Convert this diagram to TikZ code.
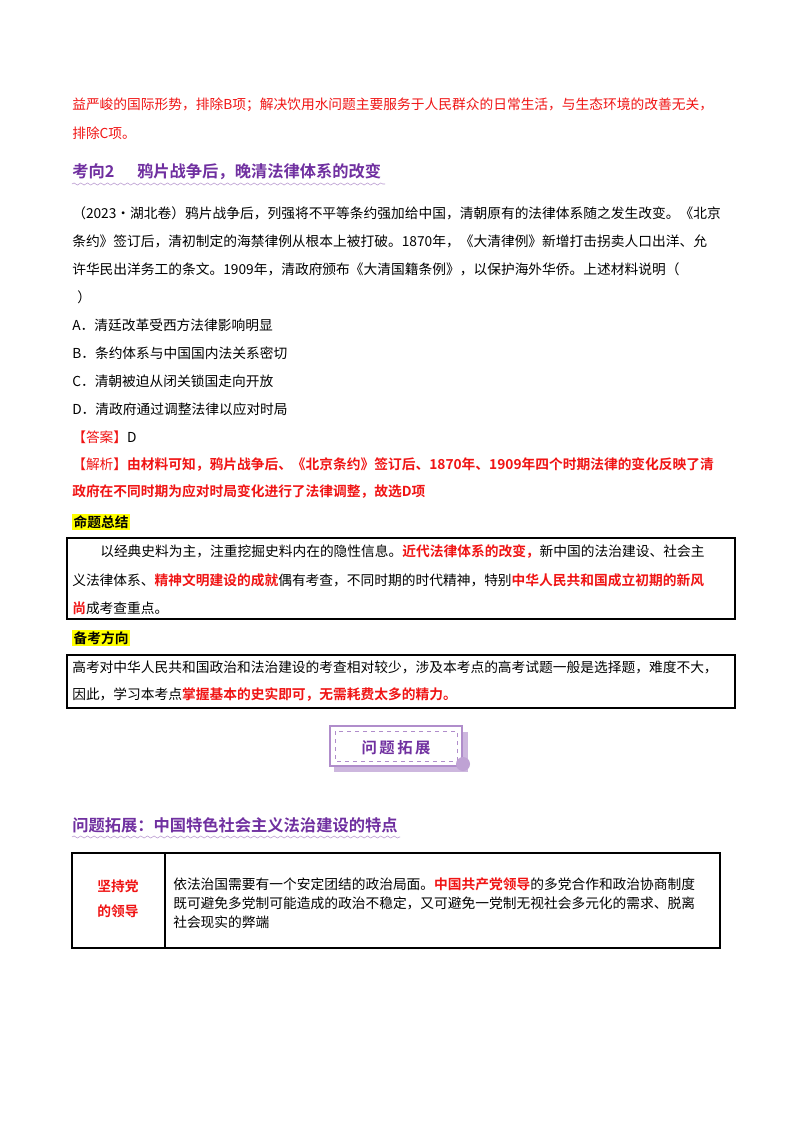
\documentclass[tikz,border=0pt]{standalone}
\usepackage{fontspec}
\setmainfont{Noto Sans CJK SC}[BoldFont={Noto Sans CJK SC Bold}]
\usetikzlibrary{decorations.pathmorphing}
\definecolor{rd}{RGB}{240,20,20}
\definecolor{pp}{RGB}{112,48,160}
\definecolor{hl}{RGB}{255,255,0}
\begin{document}
\begin{tikzpicture}[x=0.75pt,y=-0.75pt,
  t/.style={anchor=west,inner sep=0pt,font=\fontsize{10.3}{12}\selectfont},
  ts/.style={anchor=west,inner sep=0pt,font=\fontsize{10.3}{12}\selectfont},
  h/.style={anchor=west,inner sep=0pt,font=\fontsize{12.2}{14}\selectfont\bfseries,text=pp},
  wav/.style={draw=pp!50,decorate,decoration={snake,amplitude=0.8pt,segment length=5pt}},
  box/.style={draw=black,line width=1.2pt}]
\useasboundingbox (0,0) rectangle (800,1132);
\fill[white] (0,0) rectangle (800,1132);
\node[t,text=rd] (l1) at (72,105) {益严峻的国际形势，排除B项；解决饮用水问题主要服务于人民群众的日常生活，与生态环境的改善无关，};
\node[t,text=rd] (l2) at (72,133) {排除C项。};
\node[h] (h1) at (72,172) {考向2\hspace{1.4em}鸦片战争后，晚清法律体系的改变};
\draw[wav] (72,184) -- (385,184);
\node[t] (p1) at (72,213) {（2023·湖北卷）鸦片战争后，列强将不平等条约强加给中国，清朝原有的法律体系随之发生改变。《北京};
\node[t] (p2) at (72,241) {条约》签订后，清初制定的海禁律例从根本上被打破。1870年，《大清律例》新增打击拐卖人口出洋、允};
\node[t] (p3) at (72,269) {许华民出洋务工的条文。1909年，清政府颁布《大清国籍条例》，以保护海外华侨。上述材料说明（};
\node[t] (p4) at (77,297) {）};
\node[t] (oa) at (72,325) {A．清廷改革受西方法律影响明显};
\node[t] (ob) at (72,353) {B．条约体系与中国国内法关系密切};
\node[t] (oc) at (72,381) {C．清朝被迫从闭关锁国走向开放};
\node[t] (od) at (72,409) {D．清政府通过调整法律以应对时局};
\node[t] (ans) at (72,437) {\textcolor{rd}{【答案】}D};
\node[t,text=rd] (j1) at (72,465) {【解析】\textbf{由材料可知，鸦片战争后、《北京条约》签订后、1870年、1909年四个时期法律的变化反映了清}};
\node[t,text=rd] (j2) at (72,492) {\textbf{政府在不同时期为应对时局变化进行了法律调整，故选D项}};
\node[t,font=\fontsize{10.3}{12}\selectfont\bfseries,fill=hl,inner sep=1pt] (s1) at (72,522) {命题总结};
\draw[box] (67,538) rectangle (735,619);
\node[t] (b1) at (100,552) {以经典史料为主，注重挖掘史料内在的隐性信息。\textcolor{rd}{\textbf{近代法律体系的改变，}}新中国的法治建设、社会主};
\node[t] (b2) at (72,580) {义法律体系、\textcolor{rd}{\textbf{精神文明建设的成就}}偶有考查，不同时期的时代精神，特别\textcolor{rd}{\textbf{中华人民共和国成立初期的新风}}};
\node[t] (b3) at (72,608) {\textcolor{rd}{\textbf{尚}}成考查重点。};
\node[t,font=\fontsize{10.3}{12}\selectfont\bfseries,fill=hl,inner sep=1pt] (s2) at (72,638) {备考方向};
\draw[box] (67,655) rectangle (735,708);
\node[t] (c1) at (72,667) {高考对中华人民共和国政治和法治建设的考查相对较少，涉及本考点的高考试题一般是选择题，难度不大，};
\node[t] (c2) at (72,695) {因此，学习本考点\textcolor{rd}{\textbf{掌握基本的史实即可，无需耗费太多的精力。}}};
% banner
\fill[pp!35] (334,732) rectangle (468,772);
\fill[white] (330,726) rectangle (462,766);
\draw[pp!55,line width=1pt] (330,726) rectangle (462,766);
\draw[pp!55,dashed,line width=0.6pt] (335,731) rectangle (457,761);
\fill[pp!45] (463,764) circle (7);
\node[font=\fontsize{11.5}{14}\selectfont\bfseries,text=pp,inner sep=0pt] (bn) at (396,748) {问\,题\,拓\,展};
\node[h] (h2) at (72,825) {问题拓展：中国特色社会主义法治建设的特点};
\draw[wav] (72,837) -- (400,837);
\draw[box,line width=1pt] (72,853) rectangle (720,948);
\draw[line width=1pt] (165,853) -- (165,948);
\node[inner sep=0pt,align=center,text=rd,font=\fontsize{10.3}{19}\selectfont\bfseries] (lead) at (118,899) {坚持党\\的领导};
\node[ts] (r1) at (173,884) {依法治国需要有一个安定团结的政治局面。\textcolor{rd}{\textbf{中国共产党领导}}的多党合作和政治协商制度};
\node[ts] (r2) at (173,903) {既可避免多党制可能造成的政治不稳定，又可避免一党制无视社会多元化的需求、脱离};
\node[ts] (r3) at (173,922) {社会现实的弊端};
\end{tikzpicture}
\end{document}
